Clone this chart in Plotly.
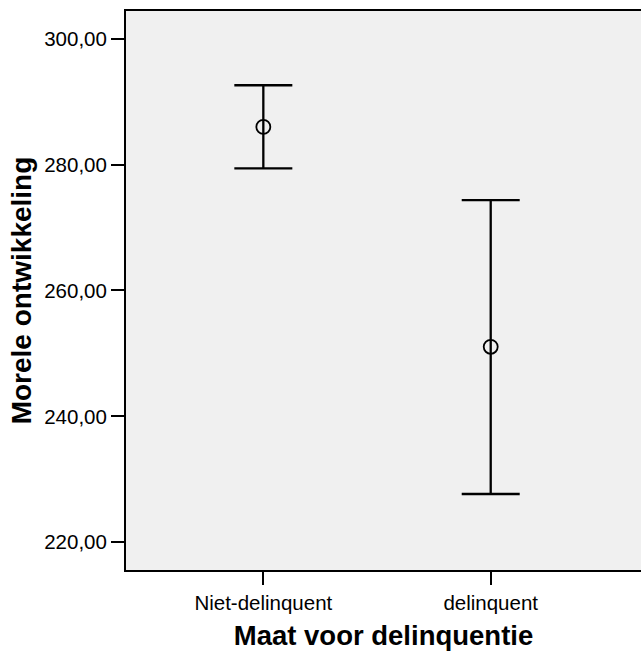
import plotly.graph_objects as go

categories = ["Niet-delinquent", "delinquent"]
means = [285.97, 251.05]
upper = [292.59, 274.33]
lower = [279.37, 227.67]
y_ticks = [220, 240, 260, 280, 300]

x_pos = list(range(len(categories)))
err_plus = [u - m for u, m in zip(upper, means)]
err_minus = [m - l for m, l in zip(means, lower)]

fig = go.Figure(go.Scatter(
    x=x_pos, y=means, mode="markers",
    marker=dict(symbol="circle-open", size=14, color="black", line=dict(width=1.8, color="black")),
    error_y=dict(type="data", symmetric=False, array=err_plus, arrayminus=err_minus,
                 color="black", thickness=2.3, width=29),
    showlegend=False, hoverinfo="skip",
))

fig.update_layout(
    width=641, height=651,
    margin=dict(l=126, r=0, t=11, b=81, autoexpand=False),
    paper_bgcolor="white", plot_bgcolor="#f0f0f0",
    separators=", ",
    font=dict(family="Liberation Sans, Arial, sans-serif", color="black"),
)
fig.update_xaxes(
    range=[-0.604, 1.661], tickmode="array", tickvals=x_pos, ticktext=categories,
    showgrid=False, zeroline=False, showline=True, linecolor="black", linewidth=2,
    mirror=True, ticks="outside", ticklen=13, tickwidth=2, tickcolor="black",
    tickfont=dict(size=20.5),
    title=dict(text="<b>Maat voor delinquentie</b>", font=dict(size=27.5), standoff=18),
)
fig.update_yaxes(
    range=[215.6, 304.38], tickmode="array", tickvals=y_ticks, tickformat=".2f",
    showgrid=False, zeroline=False, showline=True, linecolor="black", linewidth=2,
    ticks="outside", ticklen=13, tickwidth=2, tickcolor="black",
    tickfont=dict(size=20.5),
    title=dict(text="<b>Morele ontwikkeling</b>", font=dict(size=28), standoff=4),
)

fig.write_html("out.html")
